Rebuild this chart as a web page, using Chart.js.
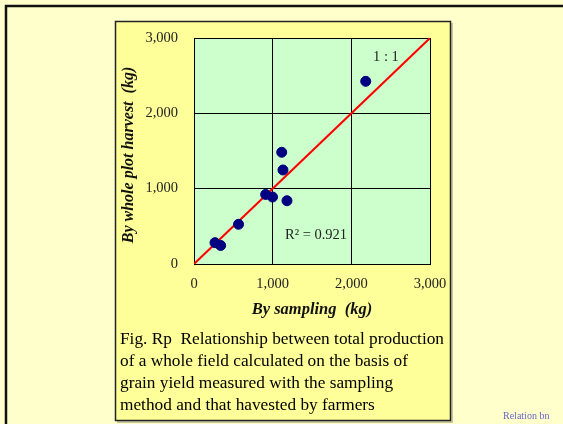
<!DOCTYPE html>
<html>
<head>
<meta charset="utf-8">
<script src="https://cdn.jsdelivr.net/npm/chart.js@4"></script>
<style>
  html, body { margin: 0; padding: 0; background: #ffffcc; overflow: hidden; }
  #chart { display: block; }
</style>
</head>
<body>
<canvas id="chart" width="563" height="424"></canvas>
<script>
// data
var sampling = [1115, 1131, 911, 998, 1182, 566, 267, 339, 2183];
var wholePlot = [1483, 1248, 923, 889, 840, 527, 283, 246, 2425];
var oneToOne = [0, 3000];
var axisTicks = [0, 1000, 2000, 3000];

var xTitle = "By sampling  (kg)";
var yTitle = "By whole plot harvest  (kg)";
var lineLabel = "1 : 1";
var r2Label = "R\u00b2 = 0.921";
var caption = [
  "Fig. Rp  Relationship between total production",
  "of a whole field calculated on the basis of",
  "grain yield measured with the sampling",
  "method and that havested by farmers"
];
var footnote = "Relation bn";

var serif = "'Liberation Serif', 'Times New Roman', serif";

var points = sampling.map((x, i) => ({ x: x, y: wholePlot[i] }));
var line = oneToOne.map(v => ({ x: v, y: v }));

var decor = {
  id: "decor",
  beforeDraw(chart) {
    const ctx = chart.ctx;
    const a = chart.chartArea;
    ctx.save();
    // slide background and frame
    ctx.fillStyle = "#ffffcc";
    ctx.fillRect(0, 0, chart.width, chart.height);
    ctx.strokeStyle = "#111";
    ctx.lineWidth = 2.5;
    ctx.beginPath();
    ctx.moveTo(6, chart.height + 5);
    ctx.lineTo(6, 6);
    ctx.lineTo(chart.width + 5, 6);
    ctx.stroke();
    // figure box with a light shadow
    ctx.fillStyle = "#c8c8a0";
    ctx.fillRect(117, 23, 336, 400);
    ctx.fillStyle = "#ffff99";
    ctx.fillRect(115, 21, 336, 400);
    ctx.strokeStyle = "#222";
    ctx.lineWidth = 1.5;
    ctx.strokeRect(115.5, 21.5, 335, 399);
    // plot area
    ctx.fillStyle = "#ccffcc";
    ctx.fillRect(a.left, a.top, a.right - a.left, a.bottom - a.top);
    ctx.restore();
  },
  afterDraw(chart) {
    const ctx = chart.ctx;
    const a = chart.chartArea;
    ctx.save();
    ctx.fillStyle = "#222";
    ctx.textBaseline = "middle";
    ctx.textAlign = "left";
    ctx.font = "14.5px " + serif;
    ctx.fillText(lineLabel, 373, 57);
    ctx.fillText(r2Label, 285, 235);

    ctx.fillStyle = "#111";
    ctx.font = "bold italic 16.5px " + serif;
    ctx.textAlign = "center";
    ctx.fillText(xTitle, (a.left + a.right) / 2, 310);
    ctx.save();
    ctx.translate(129, 155);
    ctx.rotate(-Math.PI / 2);
    ctx.font = "bold italic 16px " + serif;
    ctx.fillText(yTitle, 0, 0);
    ctx.restore();

    ctx.textAlign = "left";
    ctx.fillStyle = "#000";
    ctx.font = "17.3px " + serif;
    caption.forEach((t, i) => ctx.fillText(t, 120, 339 + i * 22));

    ctx.fillStyle = "#6666cc";
    ctx.font = "10px " + serif;
    ctx.fillText(footnote, 503, 416);
    ctx.restore();
  }
};

function fixWidth(w) {
  return s => {
    s.width = w;
    s.paddingLeft = s.paddingRight = s.paddingTop = s.paddingBottom = 0;
  };
}
function fixHeight(h) {
  return s => {
    s.height = h;
    s.paddingLeft = s.paddingRight = s.paddingTop = s.paddingBottom = 0;
  };
}

new Chart(document.getElementById("chart"), {
  type: "scatter",
  data: {
    datasets: [{
      data: points,
      backgroundColor: "#000080",
      borderColor: "#000080",
      pointRadius: 5,
      pointHoverRadius: 5,
      order: 0
    }, {
      type: "line",
      data: line,
      borderColor: "#ff0000",
      borderWidth: 2,
      pointRadius: 0,
      fill: false,
      order: 1
    }]
  },
  options: {
    responsive: false,
    devicePixelRatio: 1,
    animation: false,
    layout: { padding: { left: 0, top: 38, right: 133, bottom: 0 } },
    plugins: { legend: { display: false }, tooltip: { enabled: false } },
    scales: {
      x: {
        type: "linear",
        min: axisTicks[0],
        max: axisTicks[axisTicks.length - 1],
        afterBuildTicks: s => { s.ticks = axisTicks.map(v => ({ value: v })); },
        afterFit: fixHeight(160),
        grid: { color: "#000", lineWidth: 1, drawTicks: false },
        border: { color: "#000", width: 1 },
        ticks: { padding: 11, color: "#222", maxRotation: 0, font: { family: serif, size: 14.5 } }
      },
      y: {
        type: "linear",
        min: axisTicks[0],
        max: axisTicks[axisTicks.length - 1],
        afterBuildTicks: s => { s.ticks = axisTicks.map(v => ({ value: v })); },
        afterFit: fixWidth(194),
        grid: { color: "#000", lineWidth: 1, drawTicks: false },
        border: { color: "#000", width: 1 },
        ticks: { padding: 16, color: "#222", font: { family: serif, size: 14.5 } }
      }
    }
  },
  plugins: [decor]
});
</script>
</body>
</html>
